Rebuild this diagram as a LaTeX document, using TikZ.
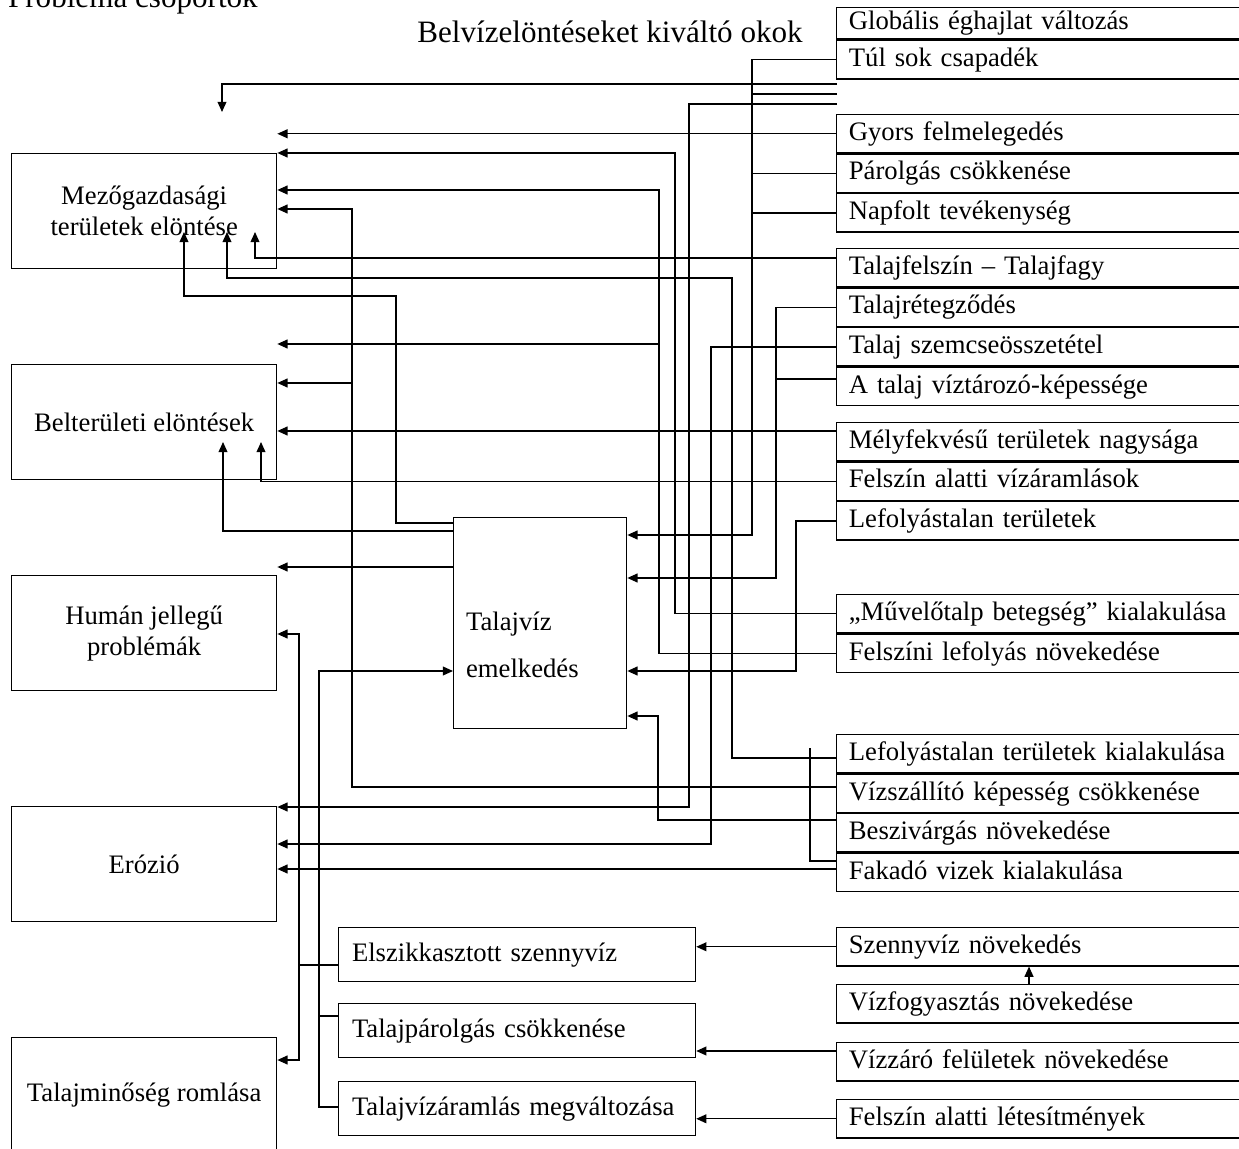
\documentclass[tikz,border=0pt]{standalone}
\usepackage{fontspec}
\setmainfont{Liberation Serif}
\usetikzlibrary{arrows.meta, positioning}

\begin{document}
\begin{tikzpicture}[
    x=0.45pt, y=-0.45pt,
    line width=0.6pt,
    node distance=0pt,
    txt/.style={font=\fontsize{12pt}{14pt}\selectfont},
    cause/.style={draw, txt, anchor=north west, text width=175pt, align=left, inner xsep=5.5pt, inner ysep=0pt, text height=9pt, text depth=3pt, minimum height=17.2pt},
    prob/.style={draw, txt, anchor=north west, minimum width=119.25pt, minimum height=51.75pt, align=center},
    eff/.style={draw, txt, anchor=north west, text width=148.6pt, align=left, inner xsep=6pt, minimum height=24.3pt},
    arr/.style={-{Triangle[length=4.6pt, width=4pt]}},
    title/.style={font=\fontsize{14pt}{16pt}\selectfont, anchor=base}
]
    \useasboundingbox (0,0) rectangle (1239,1149);
    \clip (0,0) rectangle (1239,1149);

    % titles
    \node[title, anchor=base west] (probcs) at (0,8) {Probléma csoportok};
    \node[title] (okok) at (610,43) {Belvízelöntéseket kiváltó okok};

    % problem groups
    \node[prob] (mezo) at (11,153) {Mezőgazdasági\\területek elöntése};
    \node[prob] (belter) at (11,364) {Belterületi elöntések};
    \node[prob] (human) at (11,575) {Humán jellegű\\problémák};
    \node[prob] (erozio) at (11,806) {Erózió};
    \node[prob] (talajmin) at (11,1037) {Talajminőség romlása};

    % ground water box
    \node[draw, anchor=north west, minimum width=77.85pt, minimum height=94.95pt] (talajviz) at (453,517) {};
    \node[txt, anchor=west, align=left] (talajvizlbl) at (458,645) {Talajvíz\\[7pt]emelkedés};

    \node[eff] (elszikk) at (338,927) {Elszikkasztott szennyvíz};
    \node[eff] (talparolg) at (338,1003) {Talajpárolgás csökkenése};
    \node[eff] (talvizaram) at (338,1081) {Talajvízáramlás megváltozása};

    % causes
    \node[cause, minimum height=13.95pt] (glob) at (836,7) {Globális éghajlat változás};
    \node[cause, minimum height=17.55pt, below=of glob] (csap) {Túl sok csapadék};

    \node[cause] (gyors) at (836,114) {Gyors felmelegedés};
    \node[cause, below=of gyors] (parolg) {Párolgás csökkenése};
    \node[cause, below=of parolg] (napfolt) {Napfolt tevékenység};

    \node[cause] (fagy) at (836,248) {Talajfelszín – Talajfagy};
    \node[cause, below=of fagy] (reteg) {Talajrétegződés};
    \node[cause, below=of reteg] (szemcse) {Talaj szemcseösszetétel};
    \node[cause, below=of szemcse] (tarozo) {A talaj víztározó-képessége};

    \node[cause] (melyfek) at (836,422) {Mélyfekvésű területek nagysága};
    \node[cause, below=of melyfek] (vizaram) {Felszín alatti vízáramlások};
    \node[cause, below=of vizaram] (lefoly) {Lefolyástalan területek};

    \node[cause] (muvelo) at (836,594) {„Művelőtalp betegség” kialakulása};
    \node[cause, below=of muvelo] (felszini) {Felszíni lefolyás növekedése};

    \node[cause] (lefkial) at (836,734) {Lefolyástalan területek kialakulása};
    \node[cause, below=of lefkial] (vizszall) {Vízszállító képesség csökkenése};
    \node[cause, below=of vizszall] (beszivarg) {Beszivárgás növekedése};
    \node[cause, below=of beszivarg] (fakado) {Fakadó vizek kialakulása};

    \node[cause] (szenny) at (836,927) {Szennyvíz növekedés};
    \node[cause] (vizfogy) at (836,984) {Vízfogyasztás növekedése};
    \node[cause] (vizzaro) at (836,1042) {Vízzáró felületek növekedése};
    \node[cause] (letesit) at (836,1099) {Felszín alatti létesítmények};

    % free line ends
    \coordinate (gapA) at (837,84);
    \coordinate (gapB) at (837,94);
    \coordinate (gapC) at (837,104);
    \coordinate (topend) at (222,112);
    \coordinate (brk) at (810,748);

    % connectors, upper part
    \draw[arr] (gapA) -| (topend);
    \draw[arr] (csap.west) -| (752,535) -- (talajviz.east |- 0,535);
    \draw (gapB) -- (752,94);
    \draw (parolg.west) -- (parolg.west -| 752,0);
    \draw (napfolt.west) -- (napfolt.west -| 752,0);
    \draw[arr] (gapC) -| (689,807) -- (erozio.east |- 0,807);
    \draw[arr] (gyors.west) -- (gyors.west -| mezo.east);
    \draw[arr] (muvelo.west) -| (675,153) -- (mezo.north east);
    \draw[arr] (felszini.west) -| (659,190) -- (mezo.east |- 0,190);
    \draw[arr] (659,344) -- (belter.east |- 0,344);
    \draw[arr] (vizszall.west |- 0,787) -| (352,209) -- (mezo.east |- 0,209);
    \draw[arr] (352,383) -- (belter.east |- 0,383);
    \draw[arr] (lefkial.west |- 0,758) -| (732,278) -| (227,232);
    \draw[arr] (fagy.west |- 0,258) -| (255,232);
    \draw[arr] (szemcse.west) -| (711,844) -- (erozio.east |- 0,844);
    \draw[arr] (reteg.west) -| (776,578) -- (talajviz.east |- 0,578);
    \draw (tarozo.west |- 0,379) -- (776,379);
    \draw[arr] (melyfek.west |- 0,431) -- (belter.east |- 0,431);
    \draw[arr] (vizaram.west) -| (261,442);
    \draw[arr] (lefoly.west) -| (796,671) -- (talajviz.east |- 0,671);
    \draw[arr] (beszivarg.west |- 0,820) -| (658,716) -- (talajviz.east |- 0,716);
    \draw (brk) |- (fakado.west |- 0,861);
    \draw[arr] (fakado.west |- 0,869) -- (erozio.east |- 0,869);

    % from ground water
    \draw[arr] (talajviz.west |- 0,523) -| (396,296) -| (184,232);
    \draw[arr] (talajviz.west |- 0,531) -| (223,442);
    \draw[arr] (talajviz.west |- 0,567) -- (human.east |- 0,567);

    % lower part
    \draw[arr] (elszikk.west |- 0,965) -| (299,634) -- (human.east |- 0,634);
    \draw[arr] (299,965) |- (talajmin.east |- 0,1060);
    \draw[arr] (talparolg.west |- 0,1016) -| (319,671) -- (talajviz.west |- 0,671);
    \draw (talvizaram.west |- 0,1107) -| (319,1016);
    \draw[arr] (szenny.west) -- (elszikk.east |- szenny.west);
    \draw[arr] (vizzaro.west |- 0,1051) -- (talparolg.east |- 0,1051);
    \draw[arr] (letesit.west) -- (talvizaram.east |- letesit.west);
    \draw[arr] (vizfogy.north -| 1029,0) -- (szenny.south -| 1029,0);
\end{tikzpicture}
\end{document}
